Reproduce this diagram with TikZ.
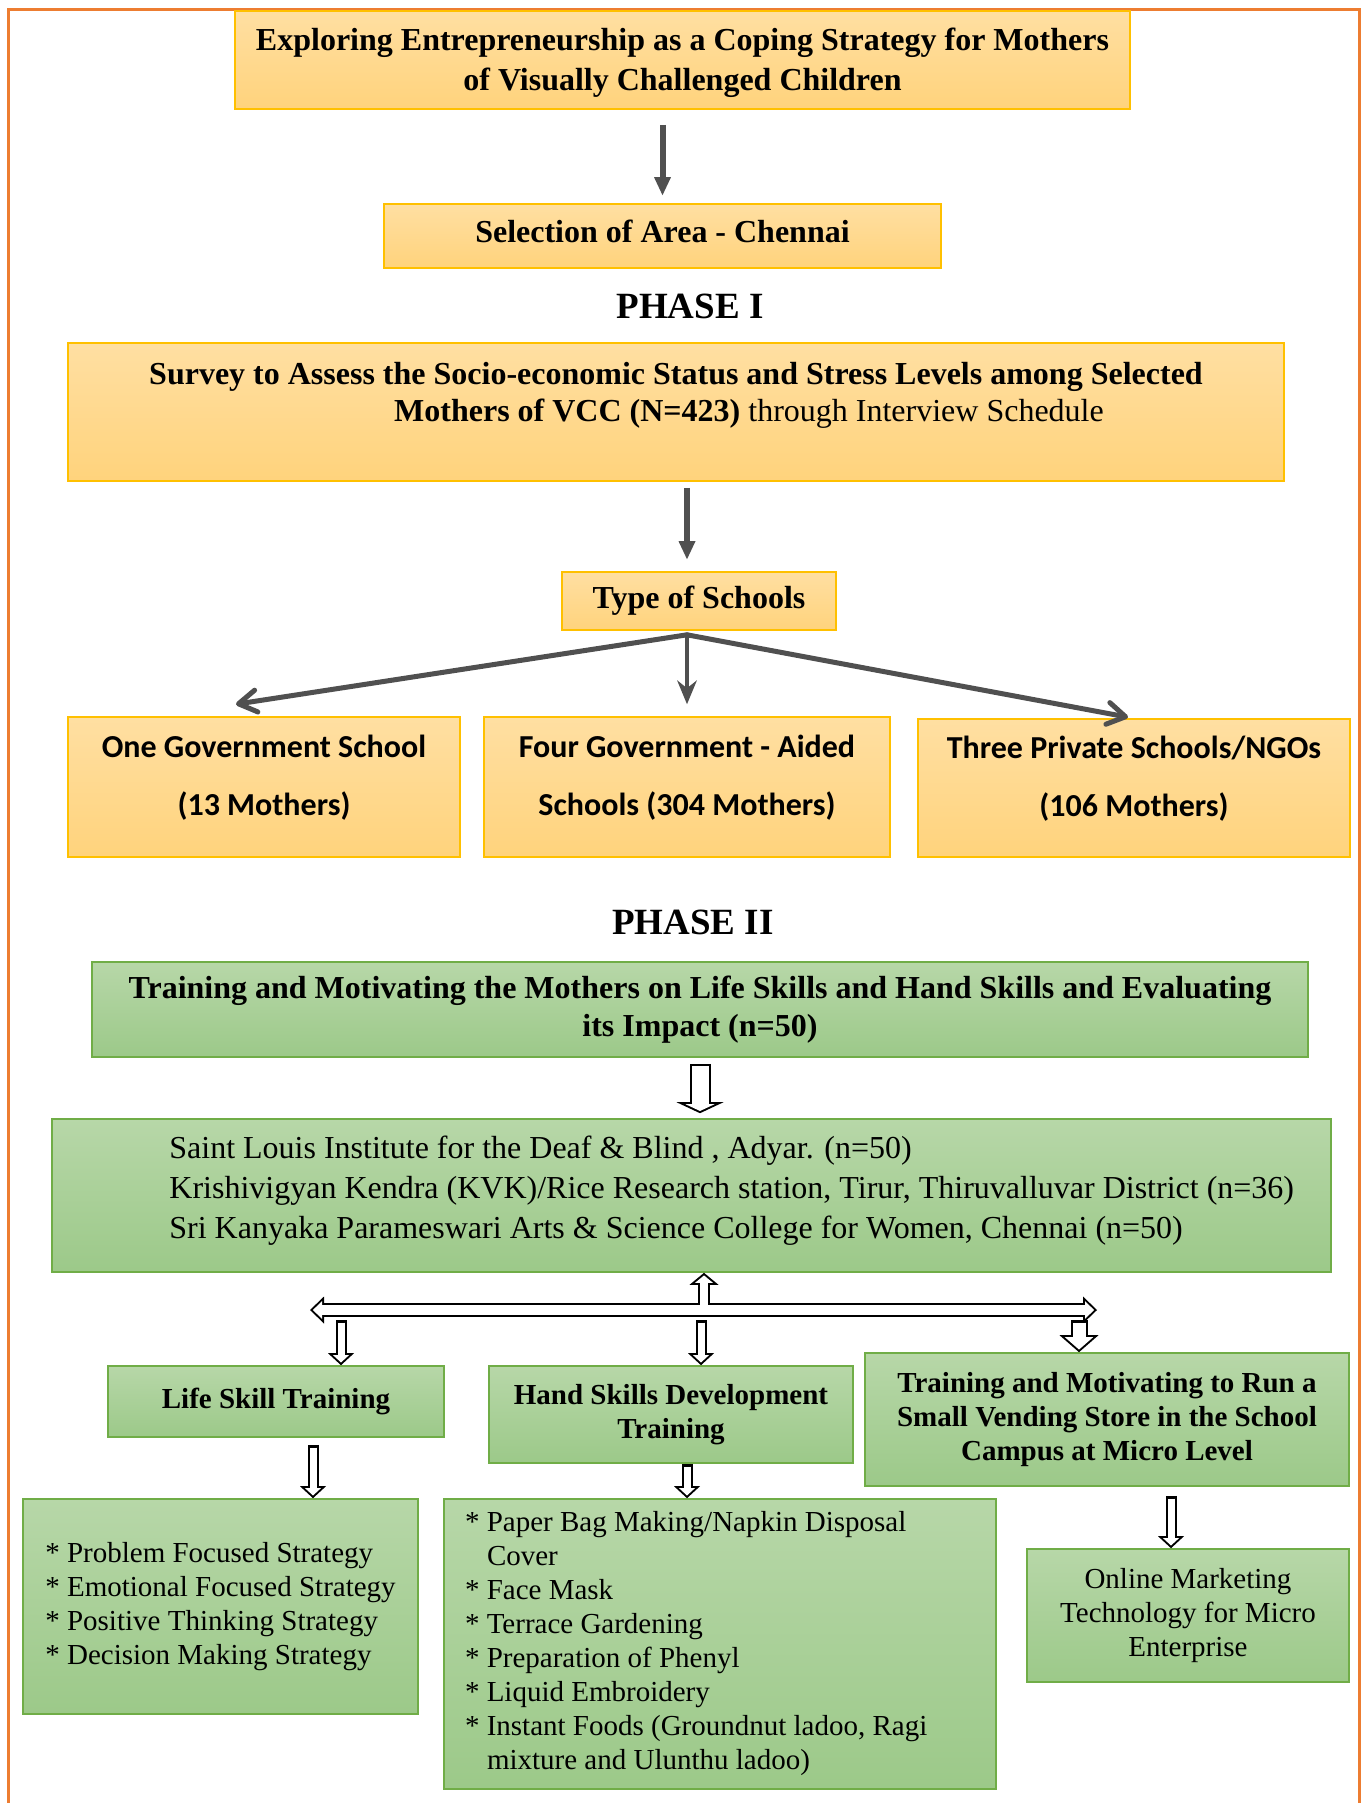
\documentclass[tikz,border=0pt]{standalone}
\usepackage{fontspec}
\setmainfont{Liberation Serif}
\newfontfamily\schoolfont{Carlito}
\usetikzlibrary{arrows.meta,calc}
\definecolor{boxgold}   {RGB}{255, 192,   0}
\definecolor{goldtop}   {RGB}{255, 223, 162}
\definecolor{goldbot}   {RGB}{255, 211, 124}
\definecolor{leafline}  {RGB}{112, 173,  71}
\definecolor{leaftop}   {RGB}{183, 215, 168}
\definecolor{leafbot}   {RGB}{156, 201, 137}
\definecolor{frameorange}{RGB}{237, 125, 49}
\definecolor{arrowgray} {RGB}{ 80,  80,  80}
\newcommand{\hdfont}{\fontsize{16}{20}\selectfont\bfseries}
\newcommand{\smbfont}{\fontsize{14.5}{17}\selectfont\bfseries}
\newcommand{\smfont}{\fontsize{14.5}{17}\selectfont}
\newcommand{\schfont}{\schoolfont\fontsize{16}{28.75}\selectfont\bfseries}

\begin{document}
\begin{tikzpicture}[x=0.5pt, y=-0.5pt,
    goldbox/.style={draw=boxgold, line width=0.8pt, top color=goldtop, bottom color=goldbot, align=center},
    leafbox/.style={draw=leafline, line width=0.8pt, top color=leaftop, bottom color=leafbot, align=center},
    phase/.style={font=\fontsize{18.5}{22}\selectfont\bfseries},
    grayarrow/.style={draw=arrowgray, line width=3pt, -{Triangle[width=8.5pt, length=9pt, line width=0pt]}},
    branch/.style={draw=arrowgray, line width=2.5pt, line cap=round, -{Straight Barb[round, length=9pt, width=11pt]}},
    midbranch/.style={draw=arrowgray, line width=2pt, -{Stealth[length=12pt, width=10pt, inset=4pt, line width=0pt]}},
    hollowout/.style n args={3}{draw=black, line width=#1, >={Triangle[width=#2, length=#3, line width=0pt]}},
    hollowin/.style n args={4}{draw=white, line width=#1, shorten >=#4, shorten <=#4, >={Triangle[width=#2, length=#3, line width=0pt]}}]
    \useasboundingbox (0,0) rectangle (1363,1803);
    \draw[frameorange, line width=1.5pt] (8,1803) -- (8,10) -- (1359,10) -- (1359,1803);

    % phase I
    \node (title) [goldbox, minimum width=447.5pt, minimum height=49pt, text depth=1pt, font=\hdfont] at (682.5,60) {Exploring Entrepreneurship as a Coping Strategy for Mothers\\of Visually Challenged Children};
    \node (area) [goldbox, minimum width=278.5pt, minimum height=32pt, text depth=4.5pt, font=\hdfont] at (662.5,236) {Selection of Area - Chennai};
    \node (phaseone) [phase] at (690,306) {PHASE I};
    \node (survey) [goldbox, minimum width=608pt, minimum height=69pt] at (676,412) {};
    \node (surveytext) [align=left, inner sep=0pt, font=\fontsize{16}{18.4}\selectfont] at (676,395) {\textbf{Survey to Assess the Socio-economic Status and Stress Levels among Selected}\\\hspace*{122.5pt}\textbf{Mothers of VCC (N=423)} through Interview Schedule};
    \node (types) [goldbox, minimum width=137pt, minimum height=29pt, font=\hdfont] at (699,601) {Type of Schools};
    \node (gov) [goldbox, minimum width=196pt, minimum height=70pt, text depth=11.5pt, font=\schfont] at (264,787) {One Government School\\(13 Mothers)};
    \node (aided) [goldbox, minimum width=203pt, minimum height=70pt, text depth=11.5pt, font=\schfont] at (687,787) {Four Government - Aided\\Schools (304 Mothers)};
    \node (private) [goldbox, minimum width=216pt, minimum height=69pt, text depth=11.5pt, font=\schfont] at (1134,788) {Three Private Schools/NGOs\\(106 Mothers)};

    \draw[grayarrow] ($(title.south -| area.north)+(0,15)$) -- ($(area.north)+(0,-8)$);
    \coordinate (typesfoot) at ($(types.south)+(-12,4)$);
    \draw[grayarrow] ($(survey.south -| typesfoot)+(0,6)$) -- ($(types.north -| typesfoot)+(0,-12)$);
    \draw[branch] (typesfoot) -- ($(gov.north)+(-28,-12)$);
    \draw[midbranch] (typesfoot) -- ($(aided.north)+(0,-12)$);
    \draw[branch] (typesfoot) -- ($(private.north)+(-6,-1)$);

    % phase II
    \node (phasetwo) [phase] at (693,922) {PHASE II};
    \node (training) [leafbox, minimum width=608pt, minimum height=47.5pt, font=\fontsize{16}{19}\selectfont\bfseries] at (700,1009.5) {Training and Motivating the Mothers on Life Skills and Hand Skills and Evaluating\\its Impact (n=50)};
    \node (inst) [leafbox, minimum width=639.5pt, minimum height=76.5pt] at (691.5,1195.5) {};
    \node (insttext) [anchor=west, align=left, inner sep=0pt, font=\fontsize{16}{20}\selectfont] at (169,1191) {Saint Louis Institute for the Deaf \& Blind , Adyar. (n=50)\\Krishivigyan Kendra (KVK)/Rice Research station, Tirur, Thiruvalluvar District (n=36)\\Sri Kanyaka Parameswari Arts \& Science College for Women, Chennai (n=50)};
    \node (life) [leafbox, minimum width=168pt, minimum height=35.5pt, font=\smbfont] at (276,1401.5) {Life Skill Training};
    \node (hand) [leafbox, minimum width=182pt, minimum height=48.5pt, font=\smbfont] at (671,1414.5) {Hand Skills Development\\Training};
    \node (vend) [leafbox, minimum width=242pt, minimum height=66.5pt, font=\smbfont] at (1107,1419.5) {Training and Motivating to Run a\\Small Vending Store in the School\\Campus at Micro Level};
    \node (lifelist) [leafbox, align=left, minimum width=197.5pt, minimum height=107.5pt, font=\smfont] at (220.5,1606.5) {{*} Problem Focused Strategy\\{*} Emotional Focused Strategy\\{*} Positive Thinking Strategy\\{*} Decision Making Strategy};
    \node (handlist) [leafbox, align=flush left, text width=255pt, inner xsep=10.5pt, minimum height=145pt, font=\smfont] at (720,1644) {{*} Paper Bag Making/Napkin Disposal\\\hspace*{11pt}Cover\\{*} Face Mask\\{*} Terrace Gardening\\{*} Preparation of Phenyl\\{*} Liquid Embroidery\\{*} Instant Foods (Groundnut ladoo, Ragi\\\hspace*{11pt}mixture and Ulunthu ladoo)};
    \node (online) [leafbox, minimum width=161pt, minimum height=66.5pt, font=\smfont] at (1188,1615.5) {Online Marketing\\Technology for Micro\\Enterprise};

    \coordinate (trainfoot) at ($(training.south)+(0,6)$);
    \coordinate (barleft) at (310,1310);
    \coordinate (barright) at (1097,1310);
    \coordinate (barup) at (704,1310);
    \coordinate (dropa) at (341,1320);
    \coordinate (dropb) at (701,1320);
    \coordinate (dropc) at (1079,1320);
    \coordinate (lifedrop) at ($(life.south)+(37,7)$);
    \coordinate (handdrop) at ($(hand.south)+(16,0)$);
    \coordinate (venddrop) at ($(vend.south)+(64,9)$);

    % hollow arrows: black outline first
    \draw[hollowout={10.5pt}{23.5pt}{5.5pt}, ->] (trainfoot) -- ($(trainfoot |- inst.north)+(0,-5)$);
    \draw[hollowout={7pt}{13.5pt}{7pt}, <->] (barleft) -- (barright);
    \draw[hollowout={6pt}{14.5pt}{6pt}, ->] (barup) -- (barup |- inst.south);
    \draw[hollowout={5.5pt}{13pt}{6pt}, ->] (dropa) -- (dropa |- life.north);
    \draw[hollowout={5.5pt}{13pt}{6pt}, ->] (dropb) -- (dropb |- hand.north);
    \draw[hollowout={8.5pt}{19.5pt}{8.5pt}, ->] (dropc) -- (dropc |- vend.north);
    \draw[hollowout={5.5pt}{13pt}{6pt}, ->] (lifedrop) -- (lifedrop |- lifelist.north);
    \draw[hollowout={5.5pt}{13pt}{6pt}, ->] (handdrop) -- (handdrop |- handlist.north);
    \draw[hollowout={5.5pt}{13pt}{6pt}, ->] (venddrop) -- (venddrop |- online.north);
    % then the white inside
    \draw[hollowin={8.5pt}{14.5pt}{3.4pt}{1.1pt}, ->] (trainfoot) -- ($(trainfoot |- inst.north)+(0,-5)$);
    \draw[hollowin={5pt}{8.8pt}{4.56pt}{1.44pt}, <->] (barleft) -- (barright);
    \draw[hollowin={4pt}{8.9pt}{3.7pt}{1.3pt}, ->] (barup) -- (barup |- inst.south);
    \draw[hollowin={3.5pt}{7.9pt}{3.64pt}{1.36pt}, ->] (dropa) -- (dropa |- life.north);
    \draw[hollowin={3.5pt}{7.9pt}{3.64pt}{1.36pt}, ->] (dropb) -- (dropb |- hand.north);
    \draw[hollowin={6.5pt}{14.1pt}{6.17pt}{1.33pt}, ->] (dropc) -- (dropc |- vend.north);
    \draw[hollowin={3.5pt}{7.9pt}{3.64pt}{1.36pt}, ->] (lifedrop) -- (lifedrop |- lifelist.north);
    \draw[hollowin={3.5pt}{7.9pt}{3.64pt}{1.36pt}, ->] (handdrop) -- (handdrop |- handlist.north);
    \draw[hollowin={3.5pt}{7.9pt}{3.64pt}{1.36pt}, ->] (venddrop) -- (venddrop |- online.north);
\end{tikzpicture}
\end{document}
